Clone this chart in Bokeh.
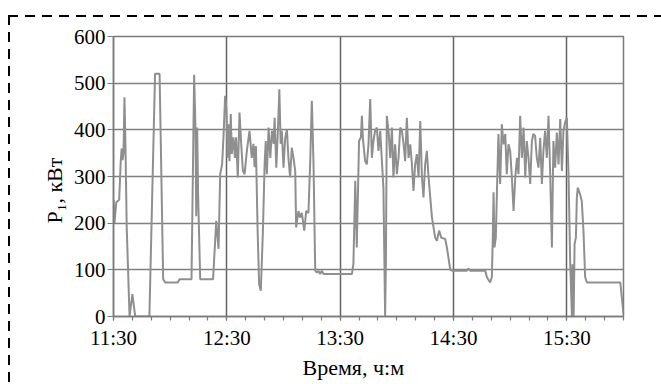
from bokeh.plotting import figure
from bokeh.models import Range1d, FixedTicker, Title
from bokeh.embed import file_html
from bokeh.resources import INLINE

# ---- data: minutes after 11:30, active power P1 (kW) ----
t_min = [
    0, 0.5, 1.5, 3, 3.8, 4.3, 4.8, 5.3, 5.8, 6.3,
    7, 8.5, 10, 11.5, 19, 22, 24.4, 26.3, 27.4, 34,
    35, 41.3, 42.7, 43.4, 43.8, 44.3, 44.8, 45.9, 52.7, 54.4,
    55.6, 56.5, 57.5, 58.4, 59.1, 59.8, 60.4, 60.9, 61.4, 62.1,
    62.6, 63.5, 64.3, 64.9, 65.8, 66.7, 67.6, 68.5, 69.4, 70.6,
    72, 73.2, 74.1, 74.7, 75.4, 76.3, 77.1, 78, 79.1, 80,
    80.6, 81.2, 82.1, 83, 83.9, 84.8, 85.3, 86.2, 87.1, 87.8,
    88.5, 89.1, 90, 90.9, 91.8, 92.6, 93.5, 94.4, 95.3, 96.2,
    96.7, 97.9, 98.8, 99.7, 101, 102, 103.2, 104.1, 105, 105.9,
    106.8, 107.7, 108.5, 109.4, 110.3, 111.2, 126.2, 127, 128, 128.8,
    130, 131, 131.5, 132, 133.2, 134.1, 135, 135.9, 136.8, 137.6,
    138.5, 139.4, 140.3, 141.2, 142.1, 142.9, 143.8, 144.2, 144.7, 145.6,
    146.5, 147.4, 148.2, 149.1, 150, 150.9, 151.8, 152.7, 153.6, 154.4,
    155.3, 156.2, 157.1, 158, 158.8, 159.7, 160.6, 161.5, 162.4, 163.3,
    164.1, 165, 165.9, 166.8, 168.6, 170.3, 171.2, 172.4, 173.5, 175.6,
    176.5, 178.3, 179.5, 187.1, 188, 188.8, 196.8, 197.7, 199.4, 200.3,
    200.8, 201.2, 201.7, 202.4, 203, 203.8, 204.7, 205.6, 206.5, 207.4,
    208.2, 209.1, 210, 210.9, 211.8, 212.7, 213.6, 214.4, 215.3, 216.2,
    217.1, 218, 218.8, 219.7, 220.6, 221.5, 222.3, 223.2, 224.1, 225,
    225.9, 226.8, 227.6, 228.5, 229.4, 230.3, 231.2, 232.1, 232.9, 233.8,
    234.7, 235.6, 236.5, 237.4, 238.2, 239.1, 240, 240.9, 241.8, 242.7,
    243, 243.6, 244.1, 244.8, 245.3, 245.8, 247, 247.9, 248.8, 249.7,
    250.6, 268.3, 270,
]
p_kw = [
    250, 200, 245, 250, 330, 360, 335, 350, 470, 375,
    190, 0, 48, 0, 0, 520, 520, 80, 73, 73,
    80, 80, 518, 400, 215, 405, 260, 80, 80, 205,
    145, 305, 326, 400, 473, 445, 340, 412, 333, 434,
    348, 384, 340, 384, 298, 437, 370, 312, 305, 355,
    398, 340, 370, 320, 365, 184, 69, 55, 184, 326,
    376, 305, 405, 340, 398, 370, 426, 319, 405, 487,
    370, 398, 319, 383, 401, 340, 298, 362, 340, 312,
    191, 226, 212, 222, 184, 226, 222, 326, 462, 326,
    98, 94, 98, 91, 98, 91, 91, 112, 291, 148,
    376, 384, 430, 384, 333, 326, 369, 466, 340, 376,
    398, 405, 355, 398, 333, 276, 0, 112, 430, 398,
    340, 405, 298, 369, 305, 340, 405, 398, 369, 333,
    426, 340, 369, 326, 269, 326, 348, 298, 419, 298,
    255, 326, 355, 298, 212, 169, 162, 184, 169, 166,
    148, 100, 98, 98, 103, 98, 98, 84, 73, 84,
    169, 266, 148, 169, 269, 391, 284, 412, 369, 391,
    305, 369, 355, 298, 226, 298, 340, 305, 430, 340,
    405, 298, 376, 340, 284, 376, 391, 387, 340, 319,
    383, 284, 355, 398, 340, 430, 305, 148, 376, 319,
    394, 326, 423, 312, 398, 416, 426, 305, 112, 0,
    112, 0, 155, 169, 255, 276, 262, 248, 184, 84,
    73, 73, 5,
]

x_ticks = [0, 60, 120, 180, 240]
x_tick_labels = ["11:30", "12:30", "13:30", "14:30", "15:30"]
y_ticks = [0, 100, 200, 300, 400, 500, 600]
x_label = "Время, ч:м"
y_label = "P\u2081, кВт"

# ---- layout geometry (pixels) ----
W, H = 661, 384
BL, BT = 113, 36          # frame left / top
FR, FB = 623, 316         # frame right / bottom
BR, BB = W - FR, H - FB

FONT = "'Liberation Serif', 'Times New Roman', 'DejaVu Serif', serif"
AXIS = "#7a7a7a"
VGRID = "#626262"
HGRID = "#808080"

p = figure(width=W, height=H, output_backend="svg", toolbar_location=None,
           x_range=Range1d(0, 270), y_range=Range1d(0, 600),
           min_border_left=BL, min_border_right=BR,
           min_border_top=BT, min_border_bottom=BB)
p.background_fill_color = "white"
p.border_fill_alpha = 0
p.outline_line_color = AXIS
p.outline_line_width = 1.5

# dashed frame of the figure (drawn as CSS background on the host element)
p.styles = {
    "background-color": "white",
    "background-image": ("repeating-linear-gradient(to right, #000 0px, #000 10px, "
                         "transparent 10px, transparent 17px), "
                         "repeating-linear-gradient(to bottom, #000 0px, #000 10px, "
                         "transparent 10px, transparent 17px)"),
    "background-size": "100% 2px, 2px 100%",
    "background-position": "8px 15px, 8px 15px",
    "background-repeat": "no-repeat",
}

p.line(t_min, p_kw, line_color="#8f8f8f", line_width=2)

# axes
p.xaxis.ticker = FixedTicker(ticks=x_ticks, minor_ticks=list(range(0, 271, 10)))
p.xaxis.major_label_overrides = {t: l for t, l in zip(x_ticks, x_tick_labels)}
p.yaxis.ticker = FixedTicker(ticks=y_ticks, minor_ticks=[])
for ax in (p.xaxis[0], p.yaxis[0]):
    ax.axis_line_color = AXIS
    ax.axis_line_width = 1.5
    ax.major_tick_line_color = AXIS
    ax.minor_tick_line_color = AXIS
    ax.major_tick_line_width = 1.2
    ax.minor_tick_line_width = 1.2
    ax.major_tick_in = 0
    ax.minor_tick_in = 0
    ax.major_label_text_font = FONT
    ax.major_label_text_font_size = "21px"
    ax.major_label_text_color = "black"
p.xaxis.major_tick_out = 4
p.xaxis.minor_tick_out = 4
p.xaxis.major_label_standoff = 5
p.yaxis.major_tick_out = 6
p.yaxis.major_label_standoff = 2

p.xgrid.grid_line_color = VGRID
p.ygrid.grid_line_color = HGRID
p.grid.grid_line_width = 1.5
p.xgrid.ticker = FixedTicker(ticks=x_ticks)
p.ygrid.ticker = FixedTicker(ticks=y_ticks)

# axis titles (left-aligned with an offset so they sit where the original has them)
p.add_layout(Title(text=x_label, align="left", offset=302 - BL, standoff=0,
                   text_font=FONT, text_font_size="22px", text_font_style="normal",
                   text_color="black"), "below")
p.add_layout(Title(text=y_label, align="left", offset=FB - 223, standoff=8,
                   text_font=FONT, text_font_size="22px", text_font_style="normal",
                   text_color="black"), "left")

open("out.html", "w").write(file_html(p, INLINE))
